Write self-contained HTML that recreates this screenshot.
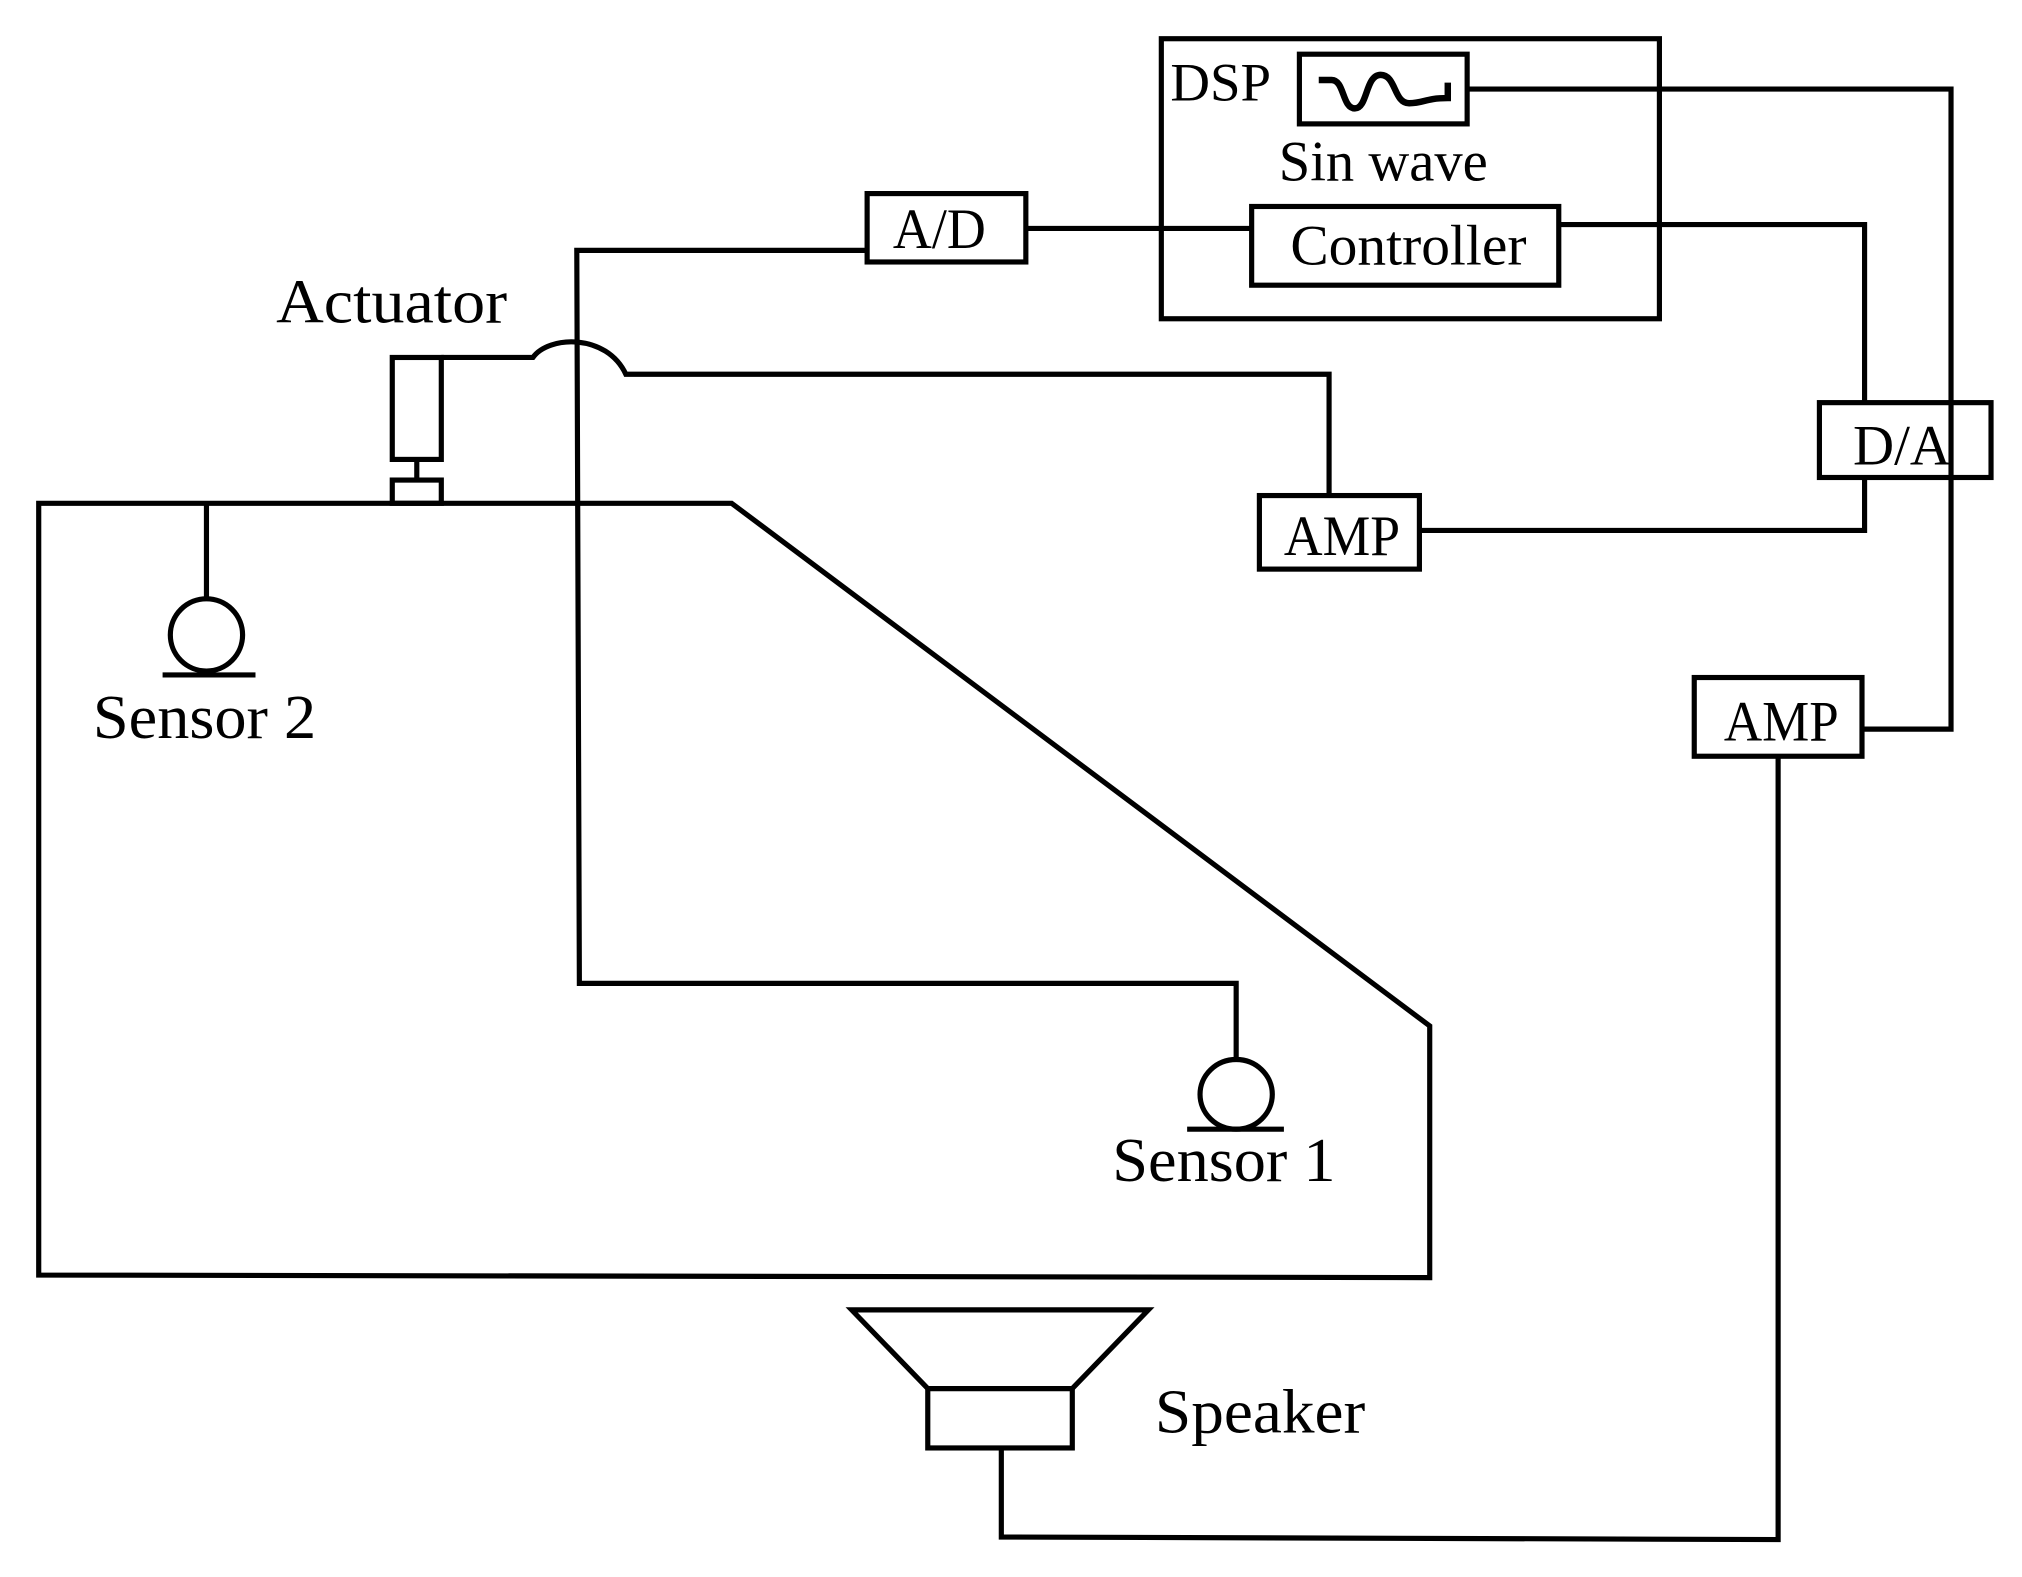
<!DOCTYPE html>
<html><head><meta charset="utf-8"><style>html,body{margin:0;padding:0;background:#fff}svg{display:block}</style></head>
<body>
<svg width="2022" height="1577" viewBox="0 0 1567 1222" preserveAspectRatio="none" xmlns="http://www.w3.org/2000/svg">
<g fill="none" stroke="#000" stroke-width="4" stroke-linejoin="miter">
<rect x="900" y="30" width="386" height="217"/>
<rect x="1007" y="42" width="130" height="54"/>
<path d="M1022,62 L1032,62 C1042,62 1040,84 1050,84 C1060,84 1058,58 1070,58 C1082,58 1080,80 1092,80 C1104,80 1104,76 1122,76 L1122,64" stroke-width="5"/>
<rect x="970" y="160" width="238" height="61"/>
<path d="M1137,69 L1512,69 L1512,565 L1443,565"/>
<path d="M1208,174 L1445,174 L1445,312"/>
<rect x="1410" y="312" width="133" height="58"/>
<path d="M1445,370 L1445,411 L1100,411"/>
<rect x="976" y="384" width="124" height="57"/>
<path d="M342,277 L413,277 C425,260 470,258 485,290 L1030,290 L1030,384"/>
<rect x="304" y="277" width="38" height="79"/>
<path d="M323,356 L323,372"/>
<rect x="304" y="372" width="38" height="18"/>
<rect x="672" y="150" width="123" height="53"/>
<path d="M795,177 L970,177"/>
<path d="M672,194 L447,194 L449,762 L958,762 L958,822"/>
<ellipse cx="958" cy="848" rx="28" ry="27"/>
<path d="M920,875 L995,875"/>
<path d="M30,390 L567,390 L1108,795 L1108,990 L30,988 Z"/>
<path d="M160,390 L160,465"/>
<ellipse cx="160" cy="492" rx="28" ry="28"/>
<path d="M126,523 L198,523"/>
<rect x="1313" y="525" width="130" height="61"/>
<path d="M1378,586 L1378,1193 L776,1191 L776,1122"/>
<rect x="719" y="1076" width="112" height="46"/>
<path d="M660,1015 L890,1015 L831,1076 L719,1076 Z"/>
</g>
<g font-family="Liberation Serif, serif" fill="#000">
<text x="907" y="78" font-size="42" textLength="78" lengthAdjust="spacingAndGlyphs">DSP</text>
<text x="991" y="140" font-size="44" textLength="162" lengthAdjust="spacingAndGlyphs">Sin wave</text>
<text x="1000" y="205" font-size="44" textLength="183" lengthAdjust="spacingAndGlyphs">Controller</text>
<text x="1436" y="360" font-size="44" textLength="76" lengthAdjust="spacingAndGlyphs">D/A</text>
<text x="995" y="430" font-size="44" textLength="90" lengthAdjust="spacingAndGlyphs">AMP</text>
<text x="1336" y="574" font-size="44" textLength="89" lengthAdjust="spacingAndGlyphs">AMP</text>
<text x="692" y="192" font-size="44" textLength="72" lengthAdjust="spacingAndGlyphs">A/D</text>
<text x="214" y="250" font-size="48" textLength="179" lengthAdjust="spacingAndGlyphs">Actuator</text>
<text x="72" y="572" font-size="48" textLength="173" lengthAdjust="spacingAndGlyphs">Sensor 2</text>
<text x="862" y="915" font-size="48" textLength="173" lengthAdjust="spacingAndGlyphs">Sensor 1</text>
<text x="895" y="1110" font-size="48" textLength="163" lengthAdjust="spacingAndGlyphs">Speaker</text>
</g>
</svg>
</body></html>
